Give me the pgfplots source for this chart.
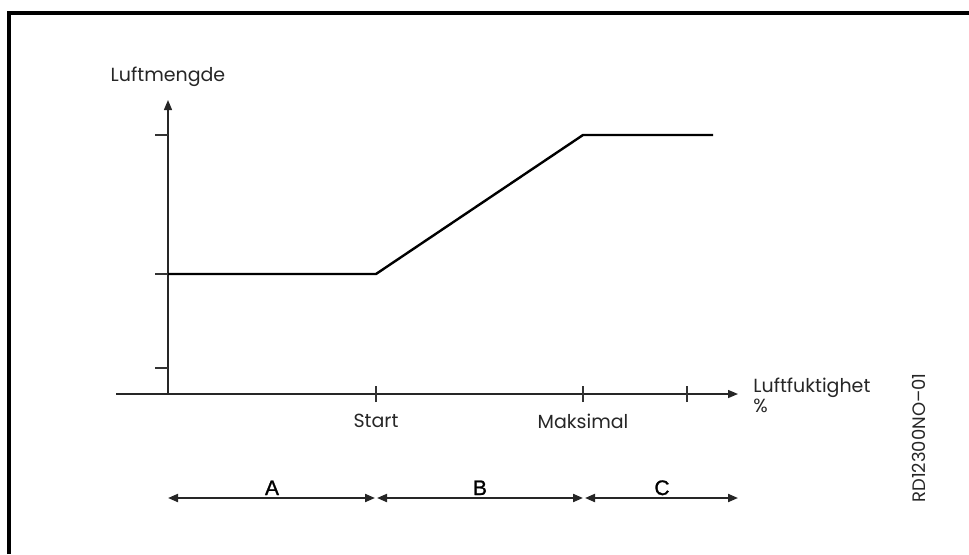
\documentclass[border=0pt]{standalone}
\usepackage{pgfplots}
\pgfplotsset{compat=1.18}
\usetikzlibrary{arrows.meta}
\usepackage{fontspec}
\setmainfont{Poppins}
\newfontfamily\helv[FakeBold=1.2]{Liberation Sans}
\begin{document}
\begin{tikzpicture}
\begin{axis}[
  x=0.5pt, y=0.5pt,
  xmin=-168, xmax=801, ymin=-160, ymax=394,
  hide axis, clip=false,
]
\coordinate (bl) at (axis cs:-168,-160);
\coordinate (tr) at (axis cs:801,394);
% frame (top and left edges)
\draw[line width=1.6pt, black] (axis cs:-159,-160) -- (axis cs:-159,381) -- (axis cs:801,381);
% axes
\draw[line width=0.7pt, black!85, -{Triangle[length=5pt,width=4pt]}] (axis cs:-52,0) -- (axis cs:570,0);
\draw[line width=0.7pt, black!85, -{Triangle[length=5pt,width=4pt]}] (axis cs:0,0) -- (axis cs:0,294);
% y ticks
\draw[line width=0.6pt, black!80] (axis cs:-13,26) -- (axis cs:0,26);
\draw[line width=0.6pt, black!80] (axis cs:-13,120) -- (axis cs:0,120);
\draw[line width=0.6pt, black!80] (axis cs:-13,259) -- (axis cs:0,259);
% x ticks
\draw[line width=0.6pt, black!80] (axis cs:208,-8) -- (axis cs:208,8);
\draw[line width=0.6pt, black!80] (axis cs:415,-8) -- (axis cs:415,8);
\draw[line width=0.6pt, black!80] (axis cs:519,-8) -- (axis cs:519,8);
% data
\addplot[line width=1.2pt, black, mark=none] coordinates {(0,120) (208,120) (415,259) (545,259)};
% labels
\node[font=\fontsize{9.5}{11}\selectfont, text=black!85] at (axis cs:0,317) {Luftmengde};
\node[font=\fontsize{9.5}{11}\selectfont, text=black!85] at (axis cs:208,-27) {Start};
\node[font=\fontsize{9.5}{11}\selectfont, text=black!85] at (axis cs:415,-27) {Maksimal};
\node[font=\fontsize{9.5}{11}\selectfont, text=black!85, anchor=base west, inner sep=0pt] at (axis cs:585,2) {Luftfuktighet};
\node[font=\fontsize{9.5}{11}\selectfont, text=black!85, anchor=base west, inner sep=0pt] at (axis cs:585,-18) {\%};
\node[font=\fontsize{9}{11}\selectfont, text=black!85, rotate=90] at (axis cs:751,-44) {RD12300NO--01};
% ranges
\draw[line width=1pt, black!85, {Triangle[length=5pt,width=4pt]}-{Triangle[length=5pt,width=4pt]}] (axis cs:0,-104) -- (axis cs:207,-104);
\draw[line width=1pt, black!85, {Triangle[length=5pt,width=4pt]}-{Triangle[length=5pt,width=4pt]}] (axis cs:209,-104) -- (axis cs:415,-104);
\draw[line width=1pt, black!85, {Triangle[length=5pt,width=4pt]}-{Triangle[length=5pt,width=4pt]}] (axis cs:417,-104) -- (axis cs:570,-104);
\node[font=\helv\fontsize{10.5}{12}\selectfont, anchor=base, inner sep=0pt] at (axis cs:104,-101) {A};
\node[font=\helv\fontsize{10.5}{12}\selectfont, anchor=base, inner sep=0pt] at (axis cs:312,-101) {B};
\node[font=\helv\fontsize{10.5}{12}\selectfont, anchor=base, inner sep=0pt] at (axis cs:494,-101) {C};
\end{axis}
\pgfresetboundingbox
\path[use as bounding box] (bl) rectangle (tr);
\end{tikzpicture}
\end{document}
